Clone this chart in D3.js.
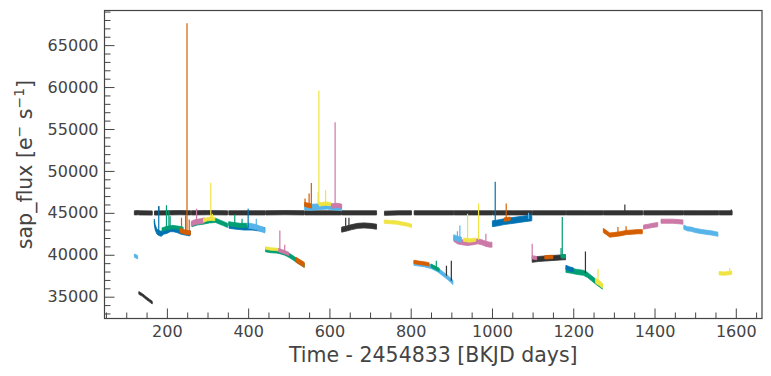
<!DOCTYPE html>
<html>
<head>
<meta charset="utf-8">
<script src="https://cdn.jsdelivr.net/npm/d3@7"></script>
<style>
  body { margin: 0; background: #fff; }
  text { font-family: "DejaVu Sans", sans-serif; fill: #444; }
</style>
</head>
<body>
<div id="chart"></div>
<script>
// time (BKJD days), sap_flux, flux error; null = data gap
var refStar = [
  [120,45000,250],[131,45020,250],null,[131.6,45000,250],[164,44980,250],null,
  [169.5,44980,250],[200,45000,250],[230,45020,250],[258.5,45000,250],null,
  [260.2,45000,250],[300,45020,250],[349.5,45000,250],null,
  [352.4,45000,250],[400,45000,250],[442,45000,250],null,
  [443.5,45000,250],[490,45020,250],[538,45000,250],null,
  [539.5,45000,250],[585,45000,250],[629,45000,250],null,
  [630.2,45000,250],[675,45000,250],[716,45000,250],null,
  [735.4,44950,250],[770,45000,250],[802,45000,250],null,
  [808.5,45000,250],[855,45000,250],[905.9,45000,250],null,
  [906.9,45000,250],[950,45000,250],[1000,45000,250],null,
  [1001.2,45000,250],[1050,45000,250],[1098,45000,250],null,
  [1099.4,45000,250],[1140,45000,250],[1181.9,45000,250],null,
  [1182.8,45000,250],[1230,45000,250],[1273,45000,250],null,
  [1274.2,45000,250],[1320,45000,250],[1371,45000,250],null,
  [1373.5,45000,250],[1420,45000,250],[1470.9,45000,250],null,
  [1472.1,45000,250],[1515,45000,250],[1558,45000,250],null,
  [1559.2,45000,250],[1575,45000,250],[1591,45000,250]
];

var q0Sky = [[120,39900,200],[124,39800,200],[128,39700,200]];
var q1Black = [[131,35450,160],[140,35200,160],[150,34800,160],[157,34550,160],[164,34300,160]];
var q2Blue = [[169,44000,250],[171,43300,300],[175,42800,300],[180,42600,300],[186,42500,300],[192,42700,250],
  [200,42800,250],[208,43000,250],[216,43000,250],[225,42900,250],[235,42700,250],[245,42600,250],[255,42500,250],[258,42600,250]];
var q2Green = [[188,43000,200],[200,43200,200],[215,43300,200],[230,43200,200],[240,43100,200]];
var q2Orange = [[232,42900,250],[245,42700,250],[258,42600,250]];
var q3Green = [[262,43600,250],[275,43800,250],[290,43900,250],[305,44050,250],[320,44100,250],[330,43900,250],[340,43700,250],[349,43500,250]];
var q3Pink = [[260,43700,300],[270,43900,300],[283,44000,300],[292,44100,300]];
var q3Yellow = [[290,44100,200],[300,44250,200],[310,44300,200],[318,44250,200]];
var q4Blue = [[353,43400,250],[370,43300,250],[390,43200,250],[410,43200,250],[425,43100,250],[441,43000,250]];
var q4Green = [[352,43700,250],[365,43600,250],[380,43500,250],[396,43500,250]];
var q4Sky = [[399,43500,300],[410,43400,300],[420,43300,300],[430,43100,300],[441,42900,300]];
var q5Green = [[443,40600,250],[455,40500,250],[470,40450,250],[480,40350,250],[490,40200,250],
  [500,39950,250],[510,39650,250],[520,39300,250],[530,39000,250],[538,38750,250]];
var q5Yellow = [[443,40800,150],[455,40700,150],[467,40650,150],[475,40600,150]];
var q5Pink = [[475,40550,200],[487,40350,200],[500,40100,200]];
var q5Orange = [[518,39400,300],[528,39100,300],[538,38800,300]];
var q6Sky = [[539,45700,350],[550,45650,350],[565,45700,350],[580,45750,350],[595,45800,350],[610,45700,350],[622,45650,350],[630,45600,350]];
var q6Orange = [[539,46000,250],[548,45900,250],[556,45800,250]];
var q6Yellow = [[575,46000,200],[590,46100,200],[603,46050,200]];
var q6Pink = [[605,45800,250],[618,45900,250],[630,45800,250]];
var q7Black = [[630,43000,300],[640,43100,300],[655,43300,300],[670,43450,300],[685,43500,300],[700,43450,300],[716,43350,300]];
var q8Yellow = [[735,43950,200],[750,43900,200],[765,43850,200],[780,43700,200],[792,43600,200],[802,43450,200]];
var q9Sky = [[808,39000,250],[820,38900,250],[835,38800,250],[850,38600,250],[865,38250,250],[880,37700,250],[892,37250,250],[904,36700,250]];
var q9Orange = [[808,39150,200],[820,39050,200],[835,38950,200],[845,38850,200]];
var q9Green = [[850,38700,200],[860,38450,200],[870,38200,200]];
var q10Pink = [[906,41900,300],[915,41600,300],[925,41500,300],[940,41400,300],[955,41500,300],[965,41600,300],
  [975,41500,300],[985,41300,300],[995,41200,300],[1000,41200,300]];
var q10Sky = [[906,42100,300],[915,41900,300],[925,41800,300]];
var q10Yellow = [[930,41800,200],[945,41700,200],[960,41800,200]];
var q11Blue = [[1001,43700,350],[1015,43800,350],[1030,43950,350],[1045,44050,350],[1060,44150,350],[1075,44250,350],[1090,44350,350],[1098,44400,350]];
var q11Orange = [[1030,44200,200],[1045,44300,200]];
var q12Black = [[1099,39400,300],[1115,39500,300],[1130,39550,300],[1145,39600,300],[1160,39650,300],[1175,39700,300],[1181,39700,300]];
var q12Pink = [[1099,39700,200],[1110,39600,200]];
var q12Orange = [[1130,39700,200],[1150,39750,200]];
var q12Green = [[1170,39800,200],[1181,39800,200]];
var q13Green = [[1182,38200,300],[1195,38100,300],[1210,37950,300],[1225,37850,300],[1235,37600,300],[1245,37200,300],[1255,36800,300],[1265,36450,300],[1272,36200,300]];
var q13Blue = [[1182,38500,250],[1192,38300,250],[1200,38200,250]];
var q13Yellow = [[1255,36900,300],[1265,36600,300],[1272,36300,300]];
var q14Orange = [[1274,42900,250],[1280,42700,250],[1290,42350,250],[1300,42400,250],[1315,42500,250],[1330,42650,250],[1345,42700,250],[1360,42750,250],[1370,42750,250]];
var q15Pink = [[1373,43300,250],[1385,43400,250],[1395,43500,250],[1408,43600,250],null,[1416,44000,250],[1430,44000,250],[1445,44000,250],[1458,43950,250],[1470,43900,250]];
var q16Sky = [[1472,43300,250],[1480,43100,250],[1490,43050,250],[1500,42900,250],[1512,42800,250],[1525,42700,250],[1540,42600,250],[1556,42450,250]];
var q17Yellow = [[1559,37800,200],[1570,37750,200],[1580,37800,200],[1590,37850,200]];

// outlier spikes: time, base flux, peak flux
var spikesBlack = [[180,45000,45800],[1327,45000,46000],[1589,45000,45400],[640,43100,44400],[648,43200,44400],
  [888,37500,38700],[900,36900,39300],[1230,37800,40400]];
var spikesBlue = [[180,42600,45800],[1008,43700,48700],[400,43200,45500]];
var spikesOrange = [[236,42800,44400],[246,42700,44700],[249.5,42600,67600],[255,42500,44200],
  [540,46000,46700],[550,45900,47300],[555.5,45800,48550],[1035,44000,46100],[1310,42500,43300],[1330,42650,43400]];
var spikesGreen = [[199,43000,45900],[205,43100,45300],[208,43200,44600],[367,43600,44800],[385,43500,44300],
  [863,38400,39300],[1170,39800,40800],[1173,39800,44500]];
var spikesPink = [[273,43900,45500],[478,40400,42900],[490,40300,41200],[614,45900,55800],[985,41300,42500],[1099,39600,41300]];
var spikesYellow = [[308,44200,48600],[312,44200,44900],[572,46000,47450],[574,46000,59600],[590.5,46100,47700],
  [940,41700,44900],[967,41800,46100],[1261,36600,38300],[1585,37800,38400]];
var spikesSky = [[921,41900,43500],[915,41900,42800],[420,43300,44300],[1090,44300,45000]];

var xTicks = [200, 400, 600, 800, 1000, 1200, 1400, 1600];
var yTicks = [35000, 40000, 45000, 50000, 55000, 60000, 65000];

var palette = {
  black: "#333333", blue: "#0072B2", orange: "#D55E00", green: "#009E73",
  pink: "#CC79A7", yellow: "#F0E442", sky: "#56B4E9"
};

var series = [
  {pts: refStar, c: "black"},
  {pts: q0Sky, c: "sky"}, {pts: q1Black, c: "black"},
  {pts: q2Blue, c: "blue"}, {pts: q2Green, c: "green"}, {pts: q2Orange, c: "orange"},
  {pts: q3Green, c: "green"}, {pts: q3Pink, c: "pink"}, {pts: q3Yellow, c: "yellow"},
  {pts: q4Blue, c: "blue"}, {pts: q4Green, c: "green"}, {pts: q4Sky, c: "sky"},
  {pts: q5Green, c: "green"}, {pts: q5Yellow, c: "yellow"}, {pts: q5Pink, c: "pink"}, {pts: q5Orange, c: "orange"},
  {pts: q6Sky, c: "sky"}, {pts: q6Orange, c: "orange"}, {pts: q6Yellow, c: "yellow"}, {pts: q6Pink, c: "pink"},
  {pts: q7Black, c: "black"}, {pts: q8Yellow, c: "yellow"},
  {pts: q9Sky, c: "sky"}, {pts: q9Orange, c: "orange"}, {pts: q9Green, c: "green"},
  {pts: q10Pink, c: "pink"}, {pts: q10Sky, c: "sky"}, {pts: q10Yellow, c: "yellow"},
  {pts: q11Blue, c: "blue"}, {pts: q11Orange, c: "orange"},
  {pts: q12Black, c: "black"}, {pts: q12Pink, c: "pink"}, {pts: q12Orange, c: "orange"}, {pts: q12Green, c: "green"},
  {pts: q13Green, c: "green"}, {pts: q13Blue, c: "blue"}, {pts: q13Yellow, c: "yellow"},
  {pts: q14Orange, c: "orange"}, {pts: q15Pink, c: "pink"}, {pts: q16Sky, c: "sky"}, {pts: q17Yellow, c: "yellow"}
];
var spikes = [
  {pts: spikesBlack, c: "black"}, {pts: spikesBlue, c: "blue"}, {pts: spikesOrange, c: "orange"},
  {pts: spikesGreen, c: "green"}, {pts: spikesPink, c: "pink"}, {pts: spikesYellow, c: "yellow"}, {pts: spikesSky, c: "sky"}
];

var W = 771, H = 376;
var margin = {top: 10.5, right: 9, bottom: 57.5, left: 104.5};
var width = W - margin.left - margin.right,
    height = H - margin.top - margin.bottom;

var svg = d3.select("#chart").append("svg")
    .attr("width", W)
    .attr("height", H);

var g = svg.append("g")
    .attr("transform", `translate(${margin.left},${margin.top})`);

var x = d3.scaleLinear().domain([46.5, 1664.5]).range([0, width]);
var y = d3.scaleLinear().domain([32400, 69130]).range([height, 0]);

g.append("defs").append("clipPath").attr("id", "clip")
  .append("rect").attr("width", width).attr("height", height);

var plot = g.append("g").attr("clip-path", "url(#clip)");

var area = d3.area()
    .defined(d => d)
    .x(d => x(d[0]))
    .y0(d => y(d[1] - d[2]))
    .y1(d => y(d[1] + d[2]));

var line = d3.line()
    .defined(d => d)
    .x(d => x(d[0]))
    .y(d => y(d[1]));

series.forEach(function(s) {
  plot.append("path")
      .datum(s.pts)
      .attr("d", area)
      .attr("fill", palette[s.c])
      .attr("stroke", palette[s.c])
      .attr("stroke-width", 0.8);
  plot.append("path")
      .datum(s.pts)
      .attr("d", line)
      .attr("fill", "none")
      .attr("stroke", palette[s.c])
      .attr("stroke-width", 1);
});

spikes.forEach(function(s) {
  plot.append("g").selectAll("line")
      .data(s.pts)
    .enter().append("line")
      .attr("x1", d => x(d[0]))
      .attr("x2", d => x(d[0]))
      .attr("y1", d => y(d[1]))
      .attr("y2", d => y(d[2]))
      .attr("stroke", palette[s.c])
      .attr("stroke-width", 1.2);
});

// minor ticks
g.append("g")
    .attr("transform", `translate(0,${height})`)
    .call(d3.axisBottom(x).tickValues(d3.range(50, 1700, 50).filter(v => v % 200)).tickSize(-6).tickFormat(""))
    .call(a => a.select(".domain").remove());
g.append("g")
    .call(d3.axisLeft(y).tickValues(d3.range(33000, 69001, 1000).filter(v => v % 5000)).tickSize(-6).tickFormat(""))
    .call(a => a.select(".domain").remove());

// major ticks
g.append("g")
    .attr("class", "axis axis-x")
    .attr("transform", `translate(0,${height})`)
    .call(d3.axisBottom(x).tickValues(xTicks).tickSize(-10).tickPadding(7).tickFormat(d3.format("d")))
    .call(a => a.select(".domain").remove());
g.append("g")
    .attr("class", "axis axis-y")
    .call(d3.axisLeft(y).tickValues(yTicks).tickSize(-10).tickPadding(6).tickFormat(d3.format("d")))
    .call(a => a.select(".domain").remove());

svg.selectAll(".tick line").attr("stroke", "#444").attr("stroke-width", 1);
svg.selectAll(".axis text").style("font-size", "16px").attr("fill", "#444");

g.append("rect")
    .attr("width", width)
    .attr("height", height)
    .attr("fill", "none")
    .attr("stroke", "#444")
    .attr("stroke-width", 1.2);

svg.append("text")
    .attr("x", margin.left + width / 2)
    .attr("y", 362)
    .attr("text-anchor", "middle")
    .style("font-size", "20.5px")
    .text("Time - 2454833 [BKJD days]");

var yl = svg.append("text")
    .attr("transform", `translate(32,${margin.top + height / 2}) rotate(-90)`)
    .attr("text-anchor", "middle")
    .style("font-size", "20.5px");
yl.append("tspan").text("sap_flux [e");
yl.append("tspan").attr("dy", -8).style("font-size", "14px").text("\u2212");
yl.append("tspan").attr("dy", 8).text(" s");
yl.append("tspan").attr("dy", -8).style("font-size", "14px").text("\u22121");
yl.append("tspan").attr("dy", 8).text("]");
</script>
</body>
</html>
